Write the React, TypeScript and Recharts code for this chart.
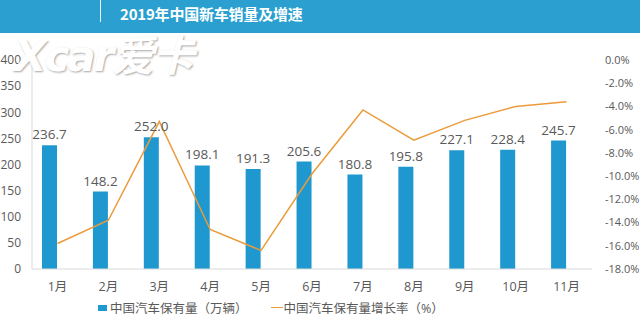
import React from "react";
import {
  ComposedChart,
  Bar,
  Line,
  XAxis,
  YAxis,
  LabelList,
} from "recharts";

// 月份
const months = ["1月", "2月", "3月", "4月", "5月", "6月", "7月", "8月", "9月", "10月", "11月"];
// 中国汽车保有量（万辆）
const ownership = [236.7, 148.2, 252.0, 198.1, 191.3, 205.6, 180.8, 195.8, 227.1, 228.4, 245.7];
// 中国汽车保有量增长率（%）
const growth = [-15.8, -13.8, -5.3, -14.6, -16.4, -9.8, -4.3, -6.9, -5.2, -4.0, -3.6];

const leftTicks = [0, 50, 100, 150, 200, 250, 300, 350, 400];
const rightTicks = [0, -2, -4, -6, -8, -10, -12, -14, -16, -18];

const BAR_NAME = "中国汽车保有量（万辆）";
const LINE_NAME = "中国汽车保有量增长率（%）";

const BLUE = "#1F98D0";
const ORANGE = "#EB9B3A";
const GREY = "#595959";
const FONT = "'Open Sans', 'Noto Sans CJK SC', sans-serif";

const data = months.map((m, i) => ({
  month: m,
  ownership: ownership[i],
  growth: growth[i],
  pad: 0,
}));

function LegendBox() {
  return (
    <div
      style={{
        position: "absolute",
        left: 98,
        top: 298,
        display: "flex",
        alignItems: "center",
        fontFamily: FONT,
        fontSize: 12.5,
        color: GREY,
        whiteSpace: "nowrap",
      }}
    >
      <span style={{ display: "inline-block", width: 9, height: 6, background: BLUE, marginRight: 3 }} />
      <span>{BAR_NAME}</span>
      <span
        style={{
          display: "inline-block",
          width: 12,
          height: 1.5,
          background: ORANGE,
          marginLeft: 23,
          marginRight: 1,
        }}
      />
      <span>{LINE_NAME}</span>
    </div>
  );
}

export default function App() {
  return (
    <div
      style={{
        position: "absolute",
        left: 0,
        top: 0,
        width: 640,
        height: 334,
        background: "#fff",
        overflow: "hidden",
        fontFamily: FONT,
      }}
    >
      {/* 标题栏 */}
      <div
        style={{
          position: "absolute",
          left: 0,
          top: 0,
          width: 640,
          height: 33,
          background: "#2A9FD0",
        }}
      >
        <div style={{ position: "absolute", left: 100, top: 0, width: 1, height: 22, background: "#e8f6fc" }} />
        <div
          style={{
            position: "absolute",
            left: 120,
            top: 3,
            color: "#fff",
            fontWeight: 700,
            fontSize: 15,
            fontFamily: "'Noto Sans CJK SC', sans-serif",
            letterSpacing: -0.2,
          }}
        >
          2019年中国新车销量及增速
        </div>
      </div>

      <ComposedChart
        width={640}
        height={334}
        data={data}
        margin={{ top: 60, right: 0, bottom: 27, left: 0 }}
        barGap={0}
        style={{ position: "absolute", left: 0, top: 0 }}
      >
        <XAxis
          dataKey="month"
          tickLine={false}
          axisLine={{ stroke: "#d9d9d9" }}
          tick={{ fill: GREY, fontSize: 12.5, fontFamily: FONT }}
          tickMargin={7}
          height={38}
          interval={0}
        />
        <YAxis
          yAxisId="left"
          width={32}
          domain={[0, 400]}
          ticks={leftTicks}
          tickLine={false}
          axisLine={{ stroke: "#d9d9d9" }}
          tick={{ fill: GREY, fontSize: 12, fontFamily: FONT }}
          tickMargin={5}
        />
        <YAxis
          yAxisId="right"
          orientation="right"
          width={48}
          domain={[-18, 0]}
          ticks={rightTicks}
          tickLine={false}
          axisLine={false}
          tick={{ fill: GREY, fontSize: 11, fontFamily: FONT }}
          tickMargin={7}
          tickFormatter={(v: number) => `${v.toFixed(1)}%`}
        />
        <Bar
          yAxisId="left"
          dataKey="ownership"
          name={BAR_NAME}
          fill={BLUE}
          barSize={15}
          isAnimationActive={false}
        >
          <LabelList
            dataKey="ownership"
            position="top"
            offset={6}
            fill={GREY}
            fontSize={13.5}
            fontFamily={FONT}
            formatter={(v: number) => Number(v).toFixed(1)}
          />
        </Bar>
        <Bar
          yAxisId="left"
          dataKey="pad"
          fill="transparent"
          barSize={15}
          legendType="none"
          isAnimationActive={false}
        />
        <Line
          yAxisId="right"
          dataKey="growth"
          name={LINE_NAME}
          stroke={ORANGE}
          strokeWidth={1.5}
          dot={false}
          isAnimationActive={false}
        />
      </ComposedChart>

      <LegendBox />

      {/* 水印 */}
      <div
        style={{
          position: "absolute",
          left: 14,
          top: 22,
          fontSize: 42,
          fontWeight: 700,
          fontStyle: "italic",
          color: "#fff",
          letterSpacing: -2,
          fontFamily: "'DejaVu Sans', 'Noto Sans CJK SC', sans-serif",
          textShadow: "1px 1px 2px rgba(0,0,0,0.35)",
          pointerEvents: "none",
        }}
      >
        Xcar爱卡
      </div>
    </div>
  );
}
